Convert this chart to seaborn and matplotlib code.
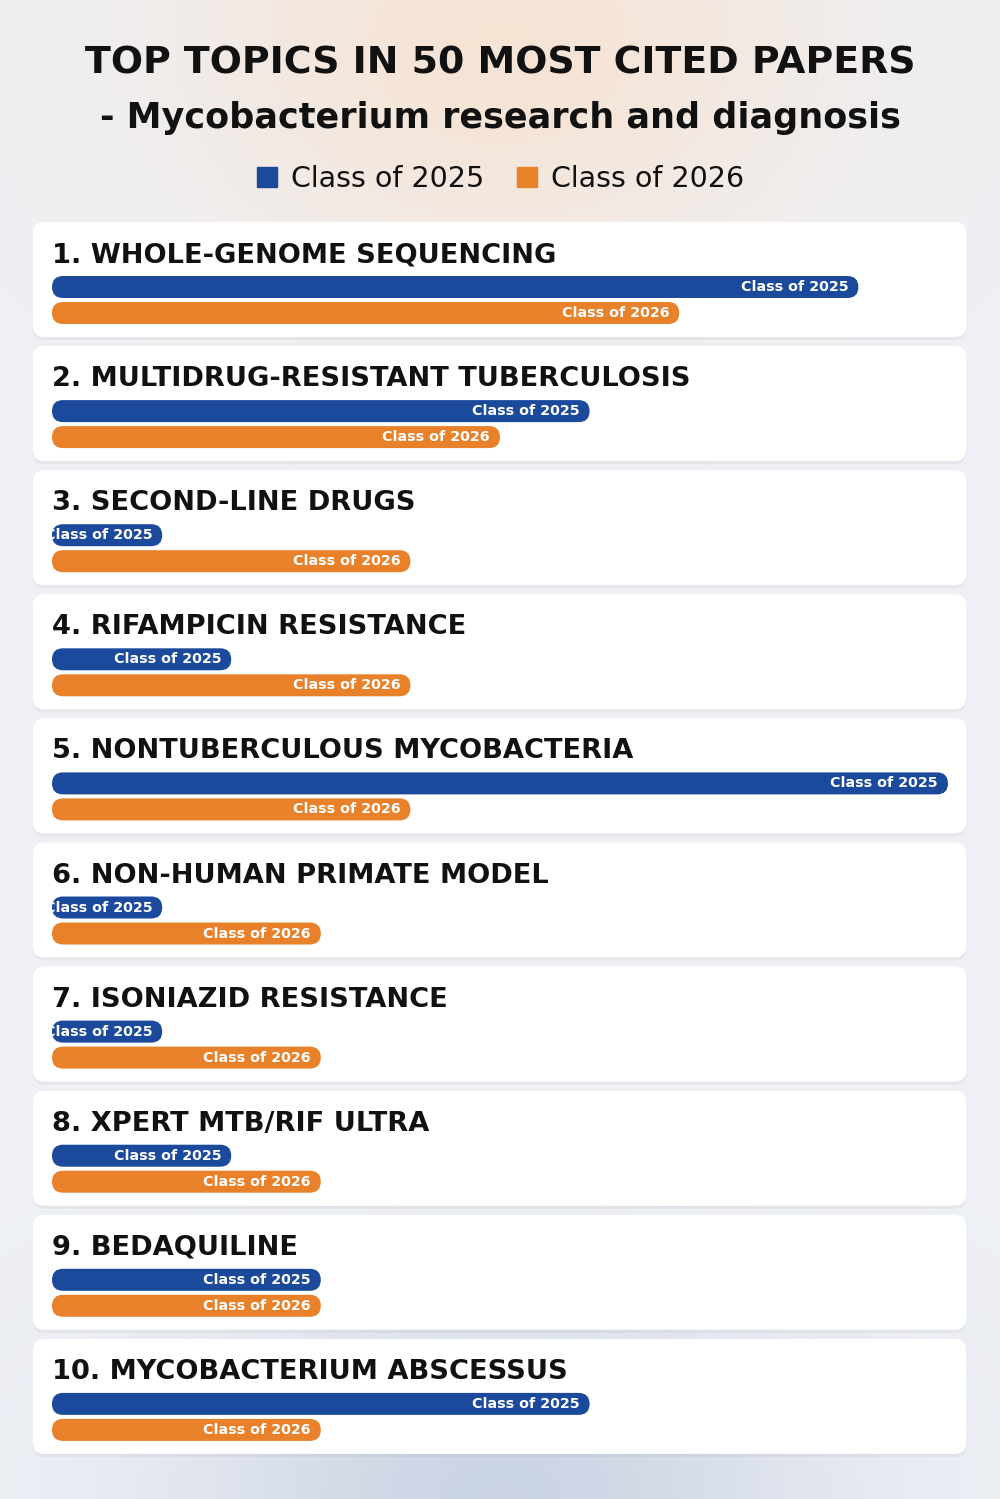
import numpy as np
import pandas as pd
import seaborn as sns
import matplotlib.pyplot as plt
from matplotlib.patches import FancyBboxPatch
from matplotlib.lines import Line2D

# data
topics = [
    "1. WHOLE-GENOME SEQUENCING",
    "2. MULTIDRUG-RESISTANT TUBERCULOSIS",
    "3. SECOND-LINE DRUGS",
    "4. RIFAMPICIN RESISTANCE",
    "5. NONTUBERCULOUS MYCOBACTERIA",
    "6. NON-HUMAN PRIMATE MODEL",
    "7. ISONIAZID RESISTANCE",
    "8. XPERT MTB/RIF ULTRA",
    "9. BEDAQUILINE",
    "10. MYCOBACTERIUM ABSCESSUS",
]
class_2025 = [9, 6, 1, 2, 10, 1, 1, 2, 3, 6]
class_2026 = [7, 5, 4, 4, 4, 3, 3, 3, 3, 3]
series = ["Class of 2025", "Class of 2026"]
colors = ["#1b4a9c", "#e8812a"]

W, H = 1000, 1499
sns.set_theme(style="white")
plt.rcParams["font.family"] = ["DejaVu Sans"]
fig = plt.figure(figsize=(W / 100, H / 100), dpi=100)

# background with soft glows
bg = fig.add_axes([0, 0, 1, 1])
yy, xx = np.mgrid[0:H:150j, 0:W:100j]
base = np.array([0.935, 0.943, 0.962])
warm = np.array([0.965, 0.895, 0.835])
cool = np.array([0.80, 0.835, 0.895])
gw = np.exp(-(((xx - 500) / 330) ** 2 + ((yy - 40) / 250) ** 2))[..., None]
gc = np.exp(-(((xx - 500) / 320) ** 2 + ((yy - 1499) / 190) ** 2))[..., None]
img = base * (1 - gw) + warm * gw
img = img * (1 - gc) + cool * gc
bg.imshow(img, extent=[0, W, H, 0], aspect="auto", interpolation="bilinear")
bg.set_xlim(0, W)
bg.set_ylim(H, 0)
bg.axis("off")

bg.text(500, 73, "TOP TOPICS IN 50 MOST CITED PAPERS", ha="center", va="baseline",
        fontsize=27.3, weight="bold", color="#111111")
bg.text(500, 128, "- Mycobacterium research and diagnosis", ha="center", va="baseline",
        fontsize=25.2, weight="bold", color="#111111")

handles = [Line2D([], [], marker="s", ls="", markersize=15, color=c) for c in colors]
fig.legend(handles, series, loc="center", bbox_to_anchor=(0.5, 1 - 179 / H), ncol=2,
           frameon=False, fontsize=20.5, handlelength=0.8, handletextpad=0.45,
           columnspacing=1.1, labelcolor="#111111")

top0, step, card_h = 222, 124.1, 115
px_x = 896 / 10   # pixels per value unit
px_y = 26         # pixels per category unit

for i, topic in enumerate(topics):
    top = top0 + i * step
    bg.add_patch(FancyBboxPatch((33, top + 3), 933, card_h, boxstyle="round,pad=0,rounding_size=11",
                                fc="black", alpha=0.04, ec="none"))
    bg.add_patch(FancyBboxPatch((33, top), 933, card_h, boxstyle="round,pad=0,rounding_size=11",
                                fc="white", ec="none"))
    bg.text(52, top + 40, topic, ha="left", va="baseline", fontsize=19.6, weight="bold", color="#111111")

    ax = fig.add_axes([52 / W, 1 - (top + 104) / H, 896 / W, 52 / H])
    df = pd.DataFrame({"series": series, "value": [class_2025[i], class_2026[i]]})
    # short bars get a minimum length so the label fits
    df["shown"] = df["value"].clip(lower=1.23)
    sns.barplot(data=df, x="shown", y="series", hue="series", palette=colors, orient="h",
                width=22 / 26, saturation=1, ax=ax, legend=False)
    ax.set_xlim(0, 10)
    ax.set_ylim(1.5, -0.5)
    ax.axis("off")

    for p, lab in zip(list(ax.patches), series):
        x, y, w, h = p.get_x(), p.get_y(), p.get_width(), p.get_height()
        fc = p.get_facecolor()
        p.remove()
        pill = FancyBboxPatch((x, y), w, h, boxstyle=f"round,pad=0,rounding_size={11 / px_x}",
                              mutation_aspect=px_x / px_y, fc=fc, ec="none")
        ax.add_patch(pill)
        t = ax.annotate(lab, (x + w, y + h / 2), xytext=(-10, 0), textcoords="offset pixels",
                        ha="right", va="center", color="white", weight="bold", fontsize=10.3)
        t.set_clip_path(pill)

fig.savefig("out.png", dpi=100)
